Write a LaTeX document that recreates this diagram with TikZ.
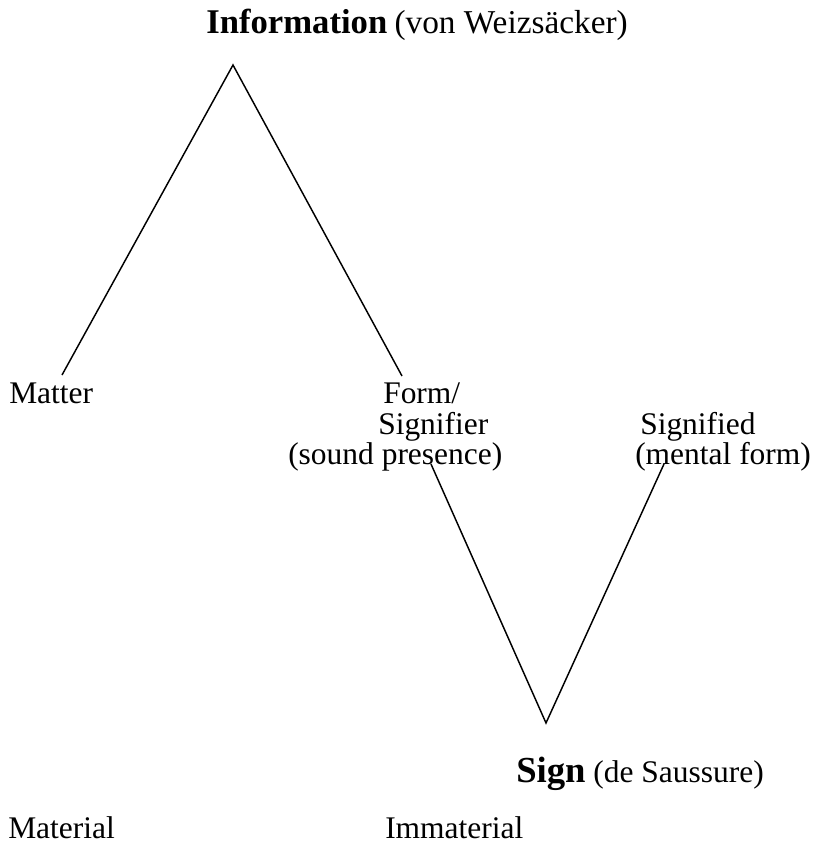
\documentclass[tikz,border=0pt]{standalone}
\usepackage{fontspec}
\setmainfont{Liberation Serif}
\begin{document}
\begin{tikzpicture}[
        x=0.75pt, y=-0.75pt,
        stroke/.style={line width=1.1pt, line join=miter},
        lbl/.style={font=\fontsize{23.6}{23.6}\selectfont, anchor=base west, inner sep=0pt},
        headlbl/.style={font=\fontsize{25}{25}\selectfont, anchor=base west, inner sep=0pt},
        head/.style={font=\fontsize{26}{26}\selectfont\bfseries, anchor=base west, inner sep=0pt},
        signhead/.style={font=\fontsize{27.5}{27.5}\selectfont\bfseries, anchor=base west, inner sep=0pt}]

    \useasboundingbox (0,0) rectangle (817,844);

    % --- Information (von Weizsäcker)
    \node[head] (info) at (206,33) {Information};
    \node[headlbl] (infosrc) at ([xshift=5pt]info.base east) {(von Weizsäcker)};

    % --- Matter / Form
    \node[lbl] (matter) at (9,403) {Matter};
    \node[lbl] (form) at (383,403) {Form/};
    \node[lbl] (signifier) at (378,434) {Signifier};
    \node[lbl] (sound) at (288,464) {(sound presence)};

    % --- Signified
    \node[lbl] (signified) at (640,434) {Signified};
    \node[lbl] (mental) at (635,464) {(mental form)};

    % --- Sign (de Saussure)
    \node[signhead] (sign) at (516,782) {Sign};
    \node[lbl] (signsrc) at ([xshift=5.5pt]sign.base east) {(de Saussure)};

    % --- Material / Immaterial
    \node[lbl] (material) at (8,838) {Material};
    \node[lbl] (immaterial) at (385,838) {Immaterial};

    % --- Linien
    \coordinate (apex) at (233,65);
    \coordinate (matterend) at (62,375);
    \coordinate (formend) at (402,376);
    \draw[stroke] (matterend) -- (apex) -- (formend);

    \coordinate (soundend) at (431,464);
    \coordinate (signtip) at (546,723);
    \coordinate (mentalend) at (664,464);
    \draw[stroke] (soundend) -- (signtip) -- (mentalend);

\end{tikzpicture}
\end{document}
